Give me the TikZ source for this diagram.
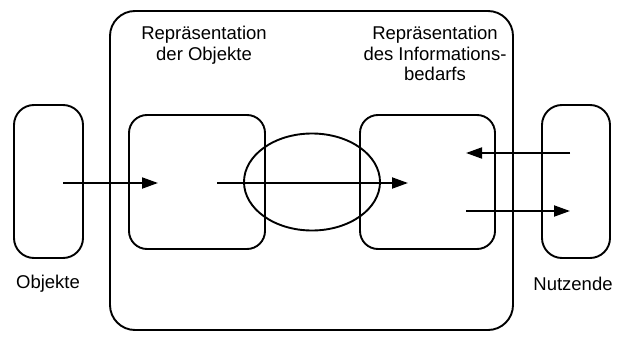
\documentclass[tikz,border=0pt]{standalone}
\usepackage{fontspec}
\setmainfont{Liberation Sans}
\usetikzlibrary{shapes.geometric,arrows.meta}
\begin{document}
\begin{tikzpicture}[x=1pt,y=-1pt,
  box/.style={draw,line width=1.9pt,rounded corners=#1,inner sep=0pt,outer sep=0pt},
  lbl/.style={font=\fontsize{18.5}{20.5}\selectfont,align=center,inner sep=0pt},
  arr/.style={line width=1.9pt,-{Triangle[length=16pt,width=11pt]}}]
\useasboundingbox (0,0) rectangle (628,337);
\node[box=25pt,minimum width=403pt,minimum height=319pt] (big) at (311.5,170.5) {};
\node[box=20pt,minimum width=69pt,minimum height=153pt] (obj) at (48.5,181.5) {};
\node[box=18pt,minimum width=136pt,minimum height=134pt] (repo) at (197,182) {};
\node[box=18pt,minimum width=135pt,minimum height=134pt] (repi) at (427.5,182) {};
\node[box=20pt,minimum width=68pt,minimum height=153pt] (nutz) at (576,181.5) {};
\node[draw,ellipse,line width=1.9pt,minimum width=136pt,minimum height=97pt,inner sep=0pt] (ell) at (312,182) {};
\node[lbl,anchor=north] (t1) at (204,26) {Repräsentation\\der Objekte};
\node[lbl,anchor=north] (t2) at (435,26) {Repräsentation\\des Informations-\\bedarfs};
\node[lbl] (t3) at (48,284) {Objekte};
\node[lbl] (t4) at (573,284) {Nutzende};
\coordinate (a1) at (63,183);
\coordinate (a2) at (158,183);
\coordinate (b1) at (217,183);
\coordinate (b2) at (408,183);
\coordinate (c1) at (570,153);
\coordinate (c2) at (466,153);
\coordinate (d1) at (466,211);
\coordinate (d2) at (570,211);
\draw[arr] (a1) -- (a2);
\draw[arr] (b1) -- (b2);
\draw[arr] (c1) -- (c2);
\draw[arr] (d1) -- (d2);
\end{tikzpicture}
\end{document}
